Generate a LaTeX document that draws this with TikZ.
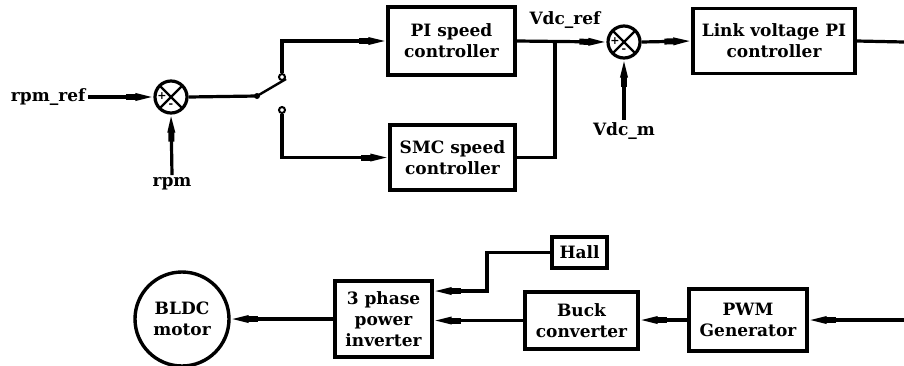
\documentclass[tikz,border=0pt]{standalone}
\usepackage{fontspec}
\setmainfont{DejaVu Serif}
\usetikzlibrary{arrows.meta}
\begin{document}
\begin{tikzpicture}[x=1pt,y=-1pt,line width=3.2pt,
  lbl/.style={font=\bfseries\fontsize{17}{21}\selectfont,inner sep=1pt},
  box/.style={draw,line width=3.4pt,align=center,inner sep=0pt,font=\bfseries\fontsize{17}{21}\selectfont},
  sumnode/.style={draw,circle,minimum size=32pt,inner sep=0pt,line width=3.2pt,
    path picture={\draw[line width=2.4pt] (path picture bounding box.north west) -- (path picture bounding box.south east)
      (path picture bounding box.north east) -- (path picture bounding box.south west);}},
  sgn/.style={font=\bfseries\fontsize{11}{11}\selectfont,inner sep=0pt},
  contact/.style={draw,circle,minimum size=6pt,inner sep=0pt,line width=2pt,fill=white},
  arr/.style={-{Rectangle[length=10pt,width=6pt,sep=-1pt]Triangle[length=18pt,width=7pt]}}]
\useasboundingbox (0,0) rectangle (904,365);

% top row
\node[lbl,anchor=east] (rpmref) at (88,97) {rpm\_ref};
\node[sumnode] (s1) at (171,97) {};
\node[sgn] (s1p) at (162,96) {+};
\node[sgn] (s1m) at (171,106) {-};
\node[lbl] (rpm) at (172,184) {rpm};
\coordinate (sw) at (257,96);
\coordinate (blade) at (286,79);
\node[box,minimum width=127pt,minimum height=68pt] (pi) at (451.5,41) {PI speed\\controller};
\node[box,minimum width=125pt,minimum height=65pt] (smc) at (452.5,157.5) {SMC speed\\controller};
\node[lbl] (vdcref) at (565,20) {Vdc\_ref};
\coordinate (j) at (555,42);
\node[sumnode] (s2) at (624,42) {};
\node[sgn] (s2p) at (615,41) {+};
\node[sgn] (s2m) at (624,51) {-};
\node[lbl] (vdcm) at (624,131) {Vdc\_m};
\node[box,minimum width=162pt,minimum height=65pt] (link) at (774,41) {Link voltage PI\\controller};
\coordinate (e1) at (904,42);

\draw[arr] (rpmref.east) -- (s1.west);
\draw[arr] (rpm.north) -- (s1.south);
\draw (s1.east) -- (sw);
\fill (sw) circle (3pt);
\draw[line width=2.4pt] (sw) -- (blade);
\node[contact] (c1) at (282,77) {};
\node[contact] (c2) at (282,110) {};
\draw[arr] (c1.north) |- (pi.west);
\draw[arr] (c2.south) |- (smc.west);
\draw[arr] (pi.east) -- (s2.west);
\draw (smc.east) -| (j);
\draw[arr] (vdcm.north) -- (s2.south);
\draw[arr] (s2.east) -- (link.west);
\draw (link.east) -- (e1);

% bottom row
\node[box,circle,minimum size=94pt] (motor) at (182,319) {BLDC\\motor};
\node[box,minimum width=97pt,minimum height=76pt] (inv) at (383.5,319) {3 phase\\power\\inverter};
\node[box,minimum width=55pt,minimum height=31pt] (hall) at (579.5,252.5) {Hall};
\node[box,minimum width=113pt,minimum height=57pt] (buck) at (581.5,320.5) {Buck\\converter};
\node[box,minimum width=118pt,minimum height=62pt] (pwm) at (748,320) {PWM\\Generator};
\coordinate (hk) at (487,291);
\coordinate (e2) at (904,320);

\draw[arr] (e2) -- (pwm.east);
\draw[arr] (pwm.west) -- (pwm.west -| buck.east);
\draw[arr] (buck.west) -- (buck.west -| inv.east);
\draw[arr] (inv.west) -- (motor.east);
\draw[arr] (hall.west) -| (hk) -- (hk -| inv.east);
\end{tikzpicture}
\end{document}
